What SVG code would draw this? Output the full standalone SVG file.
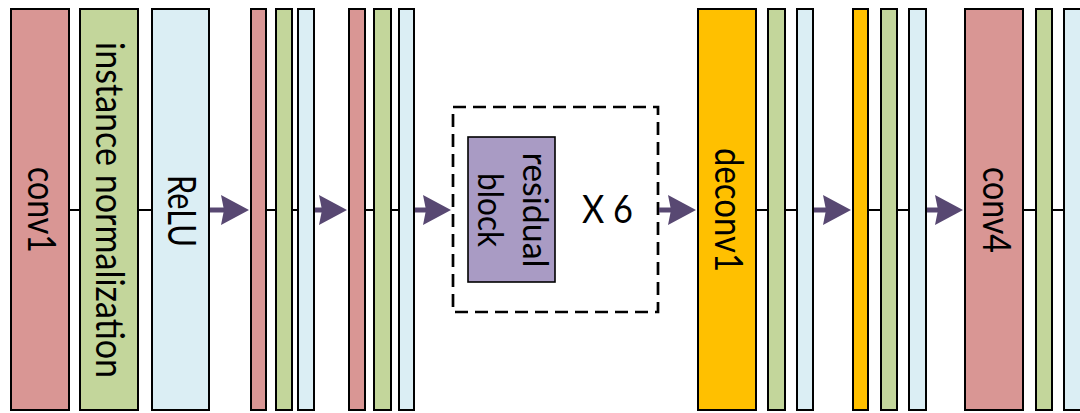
<svg xmlns="http://www.w3.org/2000/svg" width="1080" height="413" viewBox="0 0 1080 413">
  <defs>
    <style>
      .layer { stroke: #000; stroke-width: 2; }
      .conv { fill: #D99694; }
      .norm { fill: #C3D69B; }
      .relu { fill: #DBEEF4; }
      .deconv { fill: #FFC000; }
      .res { fill: #A99BC4; stroke: #000; stroke-width: 1.6; }
      .repeat { fill: none; stroke: #000; stroke-width: 2.7; stroke-dasharray: 13 7; }
      .label { font-family: "Lato", "Liberation Sans", sans-serif; font-size: 38px; fill: #000; text-anchor: middle; }
      .reslabel { font-family: "Lato", "Liberation Sans", sans-serif; font-size: 35px; fill: #000; text-anchor: middle; }
      .link { stroke: #000; stroke-width: 2; fill: none; }
      .flow { stroke: #584872; stroke-width: 5; fill: none; marker-end: url(#head); }
    </style>
    <marker id="head" markerUnits="userSpaceOnUse" markerWidth="30" markerHeight="32" viewBox="0 -16 30 32" refX="3" refY="0" orient="auto">
      <path d="M0,-15 L28,0 L0,15 L3,0 Z" fill="#584872"/>
    </marker>
  </defs>

  <!-- encoder: conv1 / instance normalization / ReLU -->
  <g id="conv1">
    <rect class="layer conv" x="11" y="9" width="58" height="401"/>
    <text class="label" transform="translate(28,210) rotate(90)" textLength="86" lengthAdjust="spacingAndGlyphs">conv1</text>
  </g>
  <g id="norm1">
    <rect class="layer norm" x="80" y="9" width="58" height="401"/>
    <text class="label" transform="translate(96,210) rotate(90)" textLength="336" lengthAdjust="spacingAndGlyphs">instance normalization</text>
  </g>
  <g id="relu1">
    <rect class="layer relu" x="152" y="9" width="57" height="401"/>
    <text class="label" transform="translate(168,211) rotate(90)" textLength="72" lengthAdjust="spacingAndGlyphs">ReLU</text>
  </g>

  <!-- conv2 block -->
  <g id="conv2">
    <rect class="layer conv" x="251" y="9" width="15" height="401"/>
    <rect class="layer norm" x="276" y="9" width="16" height="401"/>
    <rect class="layer relu" x="298" y="9" width="16" height="401"/>
  </g>

  <!-- conv3 block -->
  <g id="conv3">
    <rect class="layer conv" x="349" y="9" width="16" height="401"/>
    <rect class="layer norm" x="374" y="9" width="17" height="401"/>
    <rect class="layer relu" x="399" y="9" width="15" height="401"/>
  </g>

  <!-- repeated residual blocks -->
  <g id="residual">
    <rect class="repeat" x="453" y="107" width="205" height="205"/>
    <rect class="res" x="468" y="137" width="87" height="145"/>
    <text class="reslabel" transform="translate(523,210) rotate(90)" textLength="115" lengthAdjust="spacingAndGlyphs">residual</text>
    <text class="reslabel" transform="translate(478,210) rotate(90)" textLength="74" lengthAdjust="spacingAndGlyphs">block</text>
    <text class="label" x="607.5" y="223" textLength="51" lengthAdjust="spacingAndGlyphs">X 6</text>
  </g>

  <!-- decoder: deconv1 block -->
  <g id="deconv1">
    <rect class="layer deconv" x="698" y="9" width="58" height="401"/>
    <text class="label" transform="translate(715,210) rotate(90)" textLength="124" lengthAdjust="spacingAndGlyphs">deconv1</text>
    <rect class="layer norm" x="768" y="9" width="17" height="401"/>
    <rect class="layer relu" x="797" y="9" width="16" height="401"/>
  </g>

  <!-- deconv2 block -->
  <g id="deconv2">
    <rect class="layer deconv" x="853" y="9" width="15" height="401"/>
    <rect class="layer norm" x="881" y="9" width="16" height="401"/>
    <rect class="layer relu" x="909" y="9" width="17" height="401"/>
  </g>

  <!-- output conv4 block -->
  <g id="conv4">
    <rect class="layer conv" x="965" y="9" width="58" height="401"/>
    <text class="label" transform="translate(983,210) rotate(90)" textLength="86" lengthAdjust="spacingAndGlyphs">conv4</text>
    <rect class="layer norm" x="1036" y="9" width="16" height="401"/>
    <rect class="layer relu" x="1064" y="9" width="58" height="401"/>
  </g>

  <g id="connectors">
    <!-- links inside each block -->
    <path class="link" d="M70,210 H80 M138,210 H152 M266,210 H276 M292,210 H298 M365,210 H374 M391,210 H399 M756,210 H768 M785,210 H797 M868,210 H881 M897,210 H909 M1023,210 H1036 M1052,210 H1064"/>
    <!-- data flow between blocks -->
    <path class="flow" d="M210,210 H224"/>
    <path class="flow" d="M315,210 H322"/>
    <path class="flow" d="M415,210 H426"/>
    <path class="flow" d="M659,210 H671"/>
    <path class="flow" d="M814,210 H826"/>
    <path class="flow" d="M927,210 H938"/>
  </g>
</svg>
